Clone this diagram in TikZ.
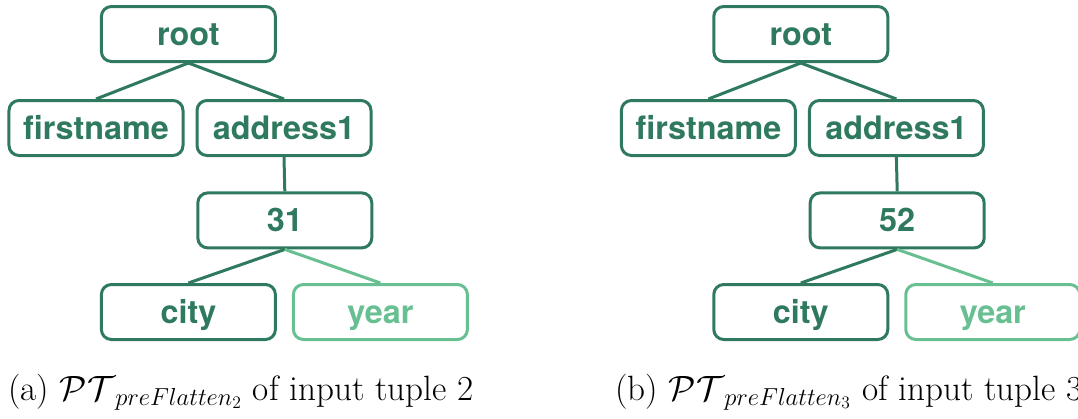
\RequirePackage{fix-cm}
\documentclass[tikz,border=0pt]{standalone}
\usepackage{fontspec}
\newfontfamily\heros{TeX Gyre Heros}
\usepackage{tikz}
\usetikzlibrary{positioning}
\definecolor{tdark}{RGB}{47,122,94}
\definecolor{tlight}{RGB}{104,192,146}
\tikzset{
  tnode/.style={draw=tdark, text=tdark, rounded corners=0.25cm, line width=0.075cm, minimum width=4.35cm, minimum height=1.375cm, inner sep=0pt, text height=0.7cm, text depth=0.15cm, font=\heros\bfseries\fontsize{23}{27}\selectfont},
  tnodelight/.style={tnode, draw=tlight, text=tlight},
  tedge/.style={draw=tdark, line width=0.075cm},
  tedgelight/.style={draw=tlight, line width=0.075cm},
  tcaption/.style={anchor=base west, inner sep=0pt, font=\fontsize{25}{30}\selectfont}
}

\begin{document}
\begin{tikzpicture}[x=1cm,y=1cm]
\useasboundingbox (0,0) rectangle (26.95,-10.475);

% (a) tuple 2
\node[tnode] (aroot) at (4.71,-0.85) {root};
\node[tnode] (afirst) at (2.40,-3.20) {firstname};
\node[tnode] (aaddr) at (7.10,-3.20) {address1};
\node[tnode] (anum) at (7.12,-5.51) {31};
\node[tnode] (acity) at (4.71,-7.80) {city};
\node[tnodelight] (ayear) at (9.51,-7.80) {year};

\draw[tedge] (aroot.south) -- (afirst.north);
\draw[tedge] (aroot.south) -- (aaddr.north);
\draw[tedge] (aaddr.south) -- (anum.north);
\draw[tedge] (anum.south) -- (acity.north);
\draw[tedgelight] (anum.south) -- (ayear.north);

\node[tcaption] (acap) at (0.20,-10.0) {(a) $\mathcal{PT}_{preFlatten_2}$ of input tuple 2};

% (b) tuple 3
\begin{scope}[xshift=15.31cm]
\node[tnode] (broot) at (4.71,-0.85) {root};
\node[tnode] (bfirst) at (2.40,-3.20) {firstname};
\node[tnode] (baddr) at (7.10,-3.20) {address1};
\node[tnode] (bnum) at (7.12,-5.51) {52};
\node[tnode] (bcity) at (4.71,-7.80) {city};
\node[tnodelight] (byear) at (9.51,-7.80) {year};

\draw[tedge] (broot.south) -- (bfirst.north);
\draw[tedge] (broot.south) -- (baddr.north);
\draw[tedge] (baddr.south) -- (bnum.north);
\draw[tedge] (bnum.south) -- (bcity.north);
\draw[tedgelight] (bnum.south) -- (byear.north);

\node[tcaption] (bcap) at (0.07,-10.0) {(b) $\mathcal{PT}_{preFlatten_3}$ of input tuple 3};
\end{scope}
\end{tikzpicture}
\end{document}
